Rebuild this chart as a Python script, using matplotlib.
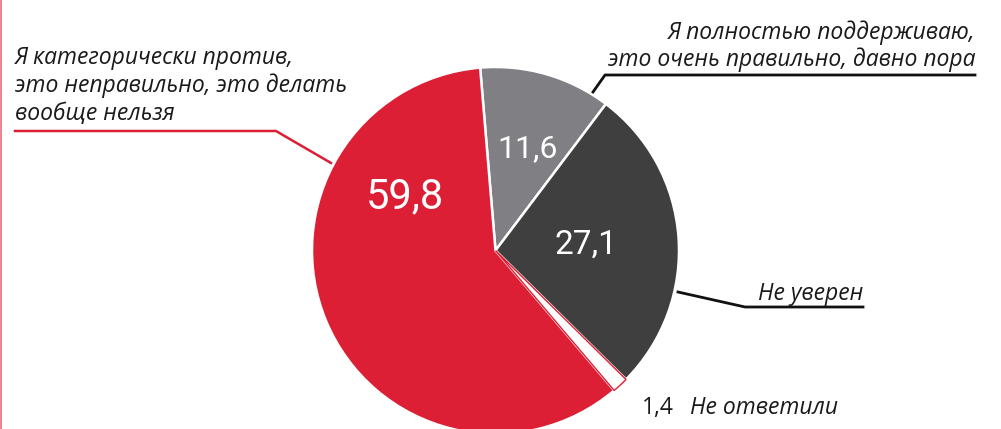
import matplotlib.pyplot as plt

# data
labels = ["Я полностью поддерживаю,\nэто очень правильно, давно пора",
          "Не уверен",
          "Не ответили",
          "Я категорически против,\nэто неправильно, это делать\nвообще нельзя"]
values = [11.6, 27.1, 1.4, 59.8]
colors = ["#808084", "#3f3f3f", "#ffffff", "#dc1f35"]

W, H = 1001, 429
RED = "#dc1f35"
INK = "#1a1a1a"


def fmt(v):
    return f"{v:.1f}".replace(".", ",")


def py(y):
    # pixel row -> data y
    return H - y


fig = plt.figure(figsize=(W / 100, H / 100), dpi=100)
ax = fig.add_axes([0, 0, 1, 1])

wedges, _ = ax.pie(values, colors=colors, startangle=94.8, counterclock=False,
                   center=(495.5, py(250.5)), radius=183.5,
                   wedgeprops=dict(edgecolor="white", linewidth=1.8))
wedges[2].set_edgecolor(RED)
wedges[2].set_linewidth(1.0)
wedges[2].set_zorder(5)

ax.set_xlim(0, W)
ax.set_ylim(0, H)
ax.set_aspect("auto")
ax.axis("off")

num_font = ["Roboto", "DejaVu Sans"]
lab_font = ["Open Sans", "DejaVu Sans"]

# numbers inside slices
ax.text(527, py(149), fmt(values[0]), color="white", fontsize=23, family=num_font,
        ha="center", va="center")
ax.text(586, py(245), fmt(values[1]), color="white", fontsize=24, family=num_font,
        ha="center", va="center")
ax.text(405, py(197), fmt(values[3]), color="white", fontsize=30, family=num_font,
        ha="center", va="center")

# top-right label
ax.text(975, py(46), labels[0], fontsize=16.5, family=lab_font, style="italic",
        color=INK, ha="right", va="center", linespacing=1.15)
ax.plot([593, 605, 975], [py(92), py(75), py(75)], color="#111111", lw=2)

# right label
ax.text(863, py(294), labels[1], fontsize=16.5, family=lab_font, style="italic",
        color=INK, ha="right", va="center")
ax.plot([678, 745, 863], [py(292), py(307), py(307)], color="#111111", lw=2)

# bottom label
ax.text(642, py(408), fmt(values[2]), fontsize=16.5, family=lab_font,
        color=INK, ha="left", va="center")
ax.text(690, py(408), labels[2], fontsize=16.5, family=lab_font, style="italic",
        color=INK, ha="left", va="center")

# left label
ax.text(15, py(86), labels[3], fontsize=16.5, family=lab_font, style="italic",
        color=INK, ha="left", va="center", linespacing=1.2)
ax.plot([15, 276, 331], [py(131), py(131), py(163)], color=RED, lw=1.8)

# thin red rule at the left edge
ax.plot([1, 1], [0, H], color="#e8707e", lw=1.2)

fig.savefig("out.png", dpi=100)
